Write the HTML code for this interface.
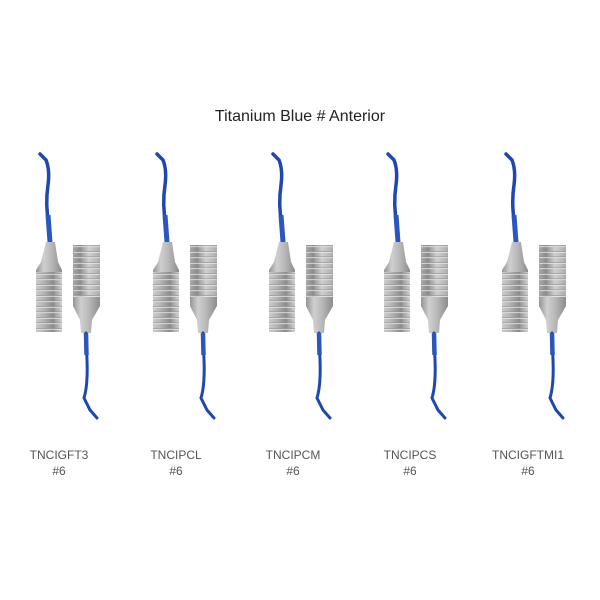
<!DOCTYPE html>
<html><head><style>
html,body{margin:0;padding:0;background:#fff;width:600px;height:600px;overflow:hidden}
</style></head><body>
<svg width="600" height="600" viewBox="0 0 600 600" xmlns="http://www.w3.org/2000/svg">
<defs>
<linearGradient id="m" x1="0" x2="1" y1="0" y2="0">
<stop offset="0" stop-color="#959595"/><stop offset="0.3" stop-color="#cfcfcf"/><stop offset="0.6" stop-color="#b8b8b8"/><stop offset="1" stop-color="#8c8c8c"/>
</linearGradient>
<linearGradient id="mp" x1="0" x2="26" y1="0" y2="0" gradientUnits="userSpaceOnUse">
<stop offset="0" stop-color="#959595"/><stop offset="0.3" stop-color="#cfcfcf"/><stop offset="0.6" stop-color="#b8b8b8"/><stop offset="1" stop-color="#8c8c8c"/>
</linearGradient>
<pattern id="g" width="27" height="5.5" patternUnits="userSpaceOnUse">
<rect width="27" height="5.5" fill="url(#mp)"/>
<rect y="4.3" width="27" height="0.8" fill="#f4f4f4"/>
<rect y="3.6" width="27" height="0.6" fill="#8a8a8a"/>
</pattern>
<g id="inst">
<path d="M40,154 L46,160 Q50,170 48,185 Q45,205 49,225 L50,242" stroke="#1f47b0" stroke-width="3.5" fill="none" stroke-linecap="round"/>
<path d="M48,215 L50,242" stroke="#2a56c0" stroke-width="5" fill="none"/>
<path d="M46,242 L55,242 L58,262 L62,270 L62,332 L36,332 L36,270 L41,262 Z" fill="url(#m)"/>
<rect x="36" y="272" width="26" height="60" fill="url(#g)"/>
<rect x="73" y="245" width="27" height="52" fill="url(#g)"/>
<path d="M73,297 L100,297 L100,306 L92,320 L91,333 L81,333 L80,320 L73,306 Z" fill="url(#m)"/>
<path d="M86,333 L87,360 Q88,385 84,398 L90,410 L97,418" stroke="#1f47b0" stroke-width="3" fill="none" stroke-linecap="round"/>
<path d="M86,333 L86.5,355" stroke="#2a56c0" stroke-width="4.5" fill="none"/>
</g>
</defs>
<text x="300" y="121" text-anchor="middle" font-family="Liberation Sans, sans-serif" font-size="16" fill="#222">Titanium Blue # Anterior</text>
<use href="#inst"/>
<use href="#inst" x="117"/>
<use href="#inst" x="233"/>
<use href="#inst" x="348"/>
<use href="#inst" x="466"/>
<g font-family="Liberation Sans, sans-serif" font-size="12" fill="#555" text-anchor="middle">
<text x="59" y="459">TNCIGFT3</text><text x="59" y="475">#6</text>
<text x="176" y="459">TNCIPCL</text><text x="176" y="475">#6</text>
<text x="293" y="459">TNCIPCM</text><text x="293" y="475">#6</text>
<text x="410" y="459">TNCIPCS</text><text x="410" y="475">#6</text>
<text x="528" y="459">TNCIGFTMI1</text><text x="528" y="475">#6</text>
</g>
</svg>
</body></html>
